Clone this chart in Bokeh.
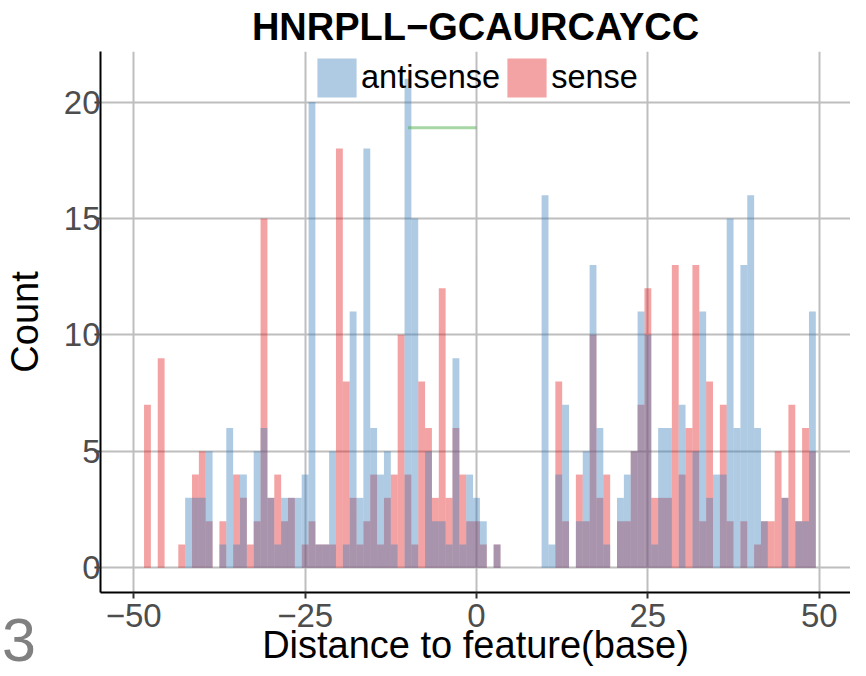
from bokeh.plotting import figure
from bokeh.models import Range1d, Legend, LegendItem, ColumnDataSource, FixedTicker, Div
from bokeh.layouts import column
from bokeh.embed import file_html
from bokeh.resources import INLINE

# bin centres (distance to feature, base)
bins = list(range(-49, 50))

antisense = [
    0, 0, 0, 0, 0, 0, 0, 3, 3, 3,      # -49..-40
    5, 0, 1, 6, 1, 4, 0, 5, 6, 3,      # -39..-30
    1, 3, 3, 3, 4, 20, 1, 1, 5, 0,     # -29..-20
    1, 11, 3, 18, 6, 4, 5, 1, 0, 21,   # -19..-10
    15, 0, 5, 2, 2, 1, 9, 1, 4, 3,     # -9..0
    2, 0, 1, 0, 0, 0, 0, 0, 0, 16,     # 1..10
    1, 4, 7, 0, 2, 5, 13, 6, 1, 0,     # 11..20
    3, 4, 5, 11, 10, 1, 6, 6, 0, 7,    # 21..30
    0, 5, 11, 3, 4, 4, 15, 6, 13, 16,  # 31..40
    6, 2, 0, 0, 3, 0, 2, 2, 11,        # 41..49
]

sense = [
    0, 7, 0, 9, 0, 0, 1, 0, 4, 5,      # -49..-40
    2, 0, 2, 0, 4, 3, 1, 2, 15, 3,     # -39..-30
    4, 2, 3, 0, 1, 2, 1, 1, 1, 18,     # -29..-20
    8, 3, 1, 2, 4, 1, 3, 4, 10, 4,     # -19..-10
    1, 8, 6, 3, 12, 3, 6, 4, 2, 2,     # -9..0
    1, 0, 1, 0, 0, 0, 0, 0, 0, 0,      # 1..10
    0, 8, 2, 0, 4, 2, 10, 3, 4, 0,     # 11..20
    2, 2, 5, 7, 12, 3, 3, 3, 13, 4,    # 21..30
    6, 13, 2, 8, 0, 7, 2, 0, 2, 0,     # 31..40
    1, 2, 2, 5, 3, 7, 2, 6, 5,         # 41..49
]

series_labels = ["antisense", "sense"]
x_ticks = [-50, -25, 0, 25, 50]
y_ticks = [0, 5, 10, 15, 20]

# green marker segment
seg_x0 = [-10]
seg_x1 = [0]
seg_y = [18.9]

panel_tag = "3"

FONT = "Liberation Sans"
BLUE = "#377EB8"
RED = "#E41A1C"

src = ColumnDataSource(dict(x=bins, antisense=antisense, sense=sense))

p = figure(width=850, height=668, output_backend="svg", toolbar_location=None,
           x_range=Range1d(-54.85, 54.56), y_range=Range1d(-1.065, 22.17),
           min_border_left=97, min_border_right=0, min_border_top=45, min_border_bottom=0)

p.outline_line_color = None
p.background_fill_color = "white"
p.border_fill_color = None

r_red = p.vbar(x="x", top="sense", bottom=0, width=1, source=src,
               fill_color=RED, fill_alpha=0.4, line_alpha=0)
r_blue = p.vbar(x="x", top="antisense", bottom=0, width=1, source=src,
                fill_color=BLUE, fill_alpha=0.4, line_alpha=0)

p.segment(x0=seg_x0, y0=seg_y, x1=seg_x1, y1=seg_y, line_color="#4DAF4A",
          line_alpha=0.5, line_width=3)

# title
p.title.text = "HNRPLL\u2212GCAURCAYCC"
p.title.align = "center"
p.title.text_font = FONT
p.title.text_font_size = "38px"
p.title.text_font_style = "bold"
p.title.text_color = "black"
p.title.standoff = 7

# axes
p.xaxis.ticker = FixedTicker(ticks=x_ticks)
p.yaxis.ticker = FixedTicker(ticks=y_ticks)
p.xaxis.major_label_overrides = {-50: "\u221250", -25: "\u221225"}
p.xaxis.axis_label = "Distance to feature(base)"
p.yaxis.axis_label = "Count"
for ax in (p.xaxis[0], p.yaxis[0]):
    ax.axis_label_text_font = FONT
    ax.axis_label_text_font_size = "38px"
    ax.axis_label_text_font_style = "normal"
    ax.axis_label_text_color = "black"
    ax.major_label_text_font = FONT
    ax.major_label_text_font_size = "33px"
    ax.major_label_text_color = "#4D4D4D"
    ax.axis_line_color = "black"
    ax.axis_line_width = 2
    ax.major_tick_line_color = "#333333"
    ax.major_tick_line_width = 2
    ax.major_tick_out = 6
    ax.major_tick_in = 0
    ax.minor_tick_line_color = None
p.xaxis.major_label_standoff = 5
p.xaxis.axis_label_standoff = -6
p.yaxis.major_label_standoff = -6
p.yaxis.axis_label_standoff = 15

for g in (p.xgrid[0], p.ygrid[0]):
    g.grid_line_color = "#BEBEBE"
    g.grid_line_width = 2

# area legend swatches are inset 10% on each side, so the glyph box is 39/0.8
legend = Legend(items=[LegendItem(label=series_labels[0], renderers=[r_blue]),
                       LegendItem(label=series_labels[1], renderers=[r_red])],
                orientation="horizontal", location=(212, 490),
                glyph_width=49, glyph_height=49, label_standoff=-3, spacing=2,
                padding=0, margin=0, border_line_alpha=0, background_fill_alpha=0,
                label_text_font=FONT, label_text_font_size="32.5px", label_text_color="black")
p.add_layout(legend)

tag = Div(text='<div style="font-family:\'Liberation Sans\'; font-size:61px; '
               'line-height:56px; color:#808080;">' + panel_tag + '</div>',
          width=60, height=56, margin=(-56, 0, 0, 2))

page = column(p, tag, spacing=0)

open("out.html", "w").write(file_html(page, INLINE))
